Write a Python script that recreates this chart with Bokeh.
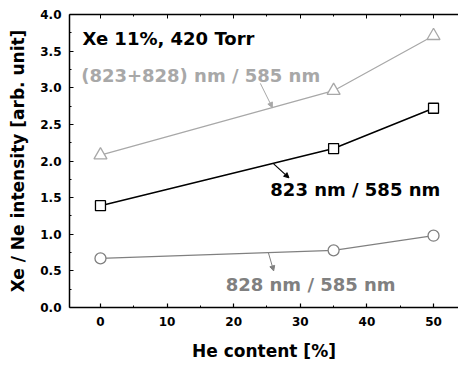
from bokeh.plotting import figure
from bokeh.models import Range1d, LinearAxis, Arrow, NormalHead, FixedTicker, Label, CustomJSTickFormatter
from bokeh.embed import file_html
from bokeh.resources import INLINE

he_content = [0, 35, 50]
sum_ratio = [2.08, 2.96, 3.71]     # (823+828) nm / 585 nm
r823 = [1.39, 2.17, 2.72]          # 823 nm / 585 nm
r828 = [0.67, 0.78, 0.98]          # 828 nm / 585 nm
x_ticks = [0, 10, 20, 30, 40, 50]
y_ticks = [0.0, 0.5, 1.0, 1.5, 2.0, 2.5, 3.0, 3.5, 4.0]

FONT = "DejaVu Sans"

p = figure(width=458, height=367, output_backend="svg", toolbar_location=None,
           x_range=Range1d(-4.65, 53.75), y_range=Range1d(0, 4.0),
           min_border_left=69, min_border_right=0, min_border_top=14, min_border_bottom=60)
p.outline_line_color = None
p.grid.visible = False
p.background_fill_color = "white"

x_minor = [-5, 5, 15, 25, 35, 45, 55]
y_minor = [0.25 + 0.5 * i for i in range(8)]

for ax in (p.xaxis[0], p.yaxis[0]):
    ax.axis_line_width = 1.5
    ax.axis_line_color = "black"
    ax.major_tick_in = 4
    ax.major_tick_out = 0
    ax.minor_tick_in = 2
    ax.minor_tick_out = 0
    ax.major_tick_line_width = 1.2
    ax.major_label_text_font = FONT
    ax.major_label_text_font_style = "bold"
    ax.major_label_text_font_size = "12px"
    ax.major_label_text_color = "black"
    ax.axis_label_text_font = FONT
    ax.axis_label_text_font_style = "bold"
    ax.axis_label_text_font_size = "17px"
    ax.axis_label_text_color = "black"

p.xaxis.ticker = FixedTicker(ticks=x_ticks, minor_ticks=x_minor)
p.yaxis.ticker = FixedTicker(ticks=y_ticks, minor_ticks=y_minor)
p.yaxis.formatter = CustomJSTickFormatter(code="return tick.toFixed(1);")
p.xaxis.axis_label = "He content [%]"
p.yaxis.axis_label = "Xe / Ne intensity [arb. unit]"
p.xaxis.major_label_standoff = 9
p.yaxis.major_label_standoff = 8
p.xaxis.axis_label_standoff = 12
p.yaxis.axis_label_standoff = 9

top = LinearAxis(ticker=FixedTicker(ticks=x_ticks, minor_ticks=x_minor),
                 formatter=CustomJSTickFormatter(code="return '';"),
                 major_label_text_font_size="12px", axis_line_width=1.5,
                 major_tick_in=4, major_tick_out=0, minor_tick_in=2, minor_tick_out=0,
                 major_label_standoff=0)
p.add_layout(top, "above")

c_sum = "#a8a8a8"
c_828 = "#808080"

p.line(he_content, sum_ratio, line_color=c_sum, line_width=1.2)
p.scatter(he_content, sum_ratio, marker="triangle", size=13, fill_color="white",
          line_color=c_sum, line_width=1.3)
p.line(he_content, r823, line_color="black", line_width=1.5)
p.scatter(he_content, r823, marker="square", size=10, fill_color="white",
          line_color="black", line_width=1.3)
p.line(he_content, r828, line_color=c_828, line_width=1.2)
p.scatter(he_content, r828, marker="circle", size=11, fill_color="white",
          line_color=c_828, line_width=1.3)

def lab(x, y, t, color, baseline="middle"):
    p.add_layout(Label(x=x, y=y, text=t, text_font=FONT, text_font_style="bold",
                       text_font_size="18px", text_color=color, text_baseline=baseline))

lab(-2.7, 3.81, "Xe 11%, 420 Torr", "black", "top")
lab(-2.9, 3.17, "(823+828) nm / 585 nm", c_sum)
lab(25.5, 1.61, "823 nm / 585 nm", "black")
lab(18.8, 0.31, "828 nm / 585 nm", c_828)

p.add_layout(Arrow(x_start=24.0, y_start=3.06, x_end=25.8, y_end=2.73,
                   line_color=c_sum, line_width=1,
                   end=NormalHead(size=5, fill_color=c_sum, line_color=c_sum)))
p.add_layout(Arrow(x_start=26.0, y_start=1.96, x_end=28.3, y_end=1.77,
                   line_color="black", line_width=1.2,
                   end=NormalHead(size=5, fill_color="black", line_color="black")))
p.add_layout(Arrow(x_start=25.2, y_start=0.75, x_end=26.0, y_end=0.50,
                   line_color=c_828, line_width=1,
                   end=NormalHead(size=5, fill_color=c_828, line_color=c_828)))

open("out.html", "w").write(file_html(p, INLINE))
